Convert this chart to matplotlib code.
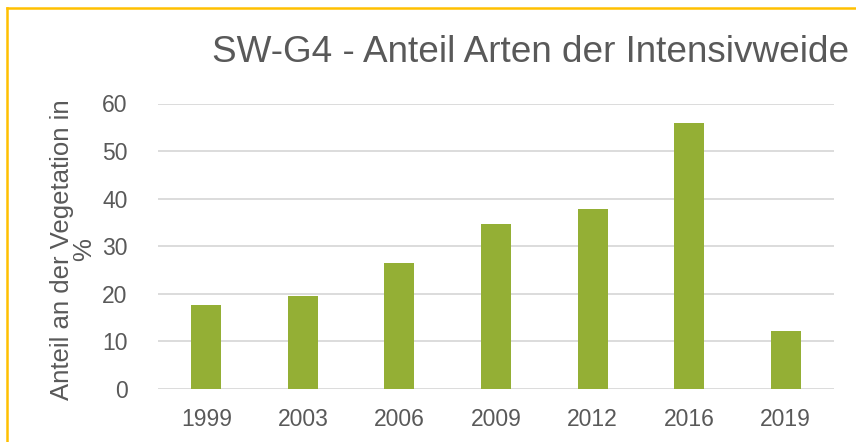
import matplotlib.pyplot as plt
from matplotlib.lines import Line2D

years = ["1999", "2003", "2006", "2009", "2012", "2016", "2019"]
values = [17.7, 19.6, 26.5, 34.7, 37.8, 56.0, 12.2]
yticks = [0, 10, 20, 30, 40, 50, 60]

plt.rcParams["font.family"] = ["Liberation Sans", "DejaVu Sans"]
text_col = "#595959"
bar_col = "#94AF35"
grid_col = "#D9D9D9"

fig = plt.figure(figsize=(8.56, 4.42), dpi=100)
ax = fig.add_axes([158 / 856, 1 - 389 / 442, (834 - 158) / 856, (389 - 103.5) / 442])

x = list(range(len(years)))
ax.bar(x, values, width=0.31, color=bar_col, zorder=3)

ax.set_xlim(-0.5, len(years) - 0.5)
ax.set_ylim(0, 60)
ax.set_yticks(yticks)
ax.set_xticks(x)
ax.set_xticklabels(years)
ax.yaxis.grid(True, color=grid_col, linewidth=1.3, zorder=0)
ax.tick_params(axis="both", length=0, labelsize=16.5, labelcolor=text_col)
ax.tick_params(axis="y", pad=22)
ax.tick_params(axis="x", pad=13.5)
for s in ax.spines.values():
    s.set_visible(False)

fig.text(531 / 856, 1 - 52 / 442, "SW-G4 - Anteil Arten der Intensivweide",
         ha="center", va="center", fontsize=26.6, color=text_col)
fig.text(73 / 856, 1 - 250 / 442, "Anteil an der Vegetation in\n%",
         rotation=90, ha="center", va="center", multialignment="center",
         fontsize=18.5, color=text_col, linespacing=0.9)

# yellow frame (top and left edges)
fig.add_artist(Line2D([7.5 / 856, 7.5 / 856], [0, 1 - 7.5 / 442],
                      transform=fig.transFigure, color="#FFC000", linewidth=1.8))
fig.add_artist(Line2D([7.5 / 856, 1], [1 - 7.5 / 442, 1 - 7.5 / 442],
                      transform=fig.transFigure, color="#FFC000", linewidth=1.8))

fig.savefig("out.png", dpi=100)
